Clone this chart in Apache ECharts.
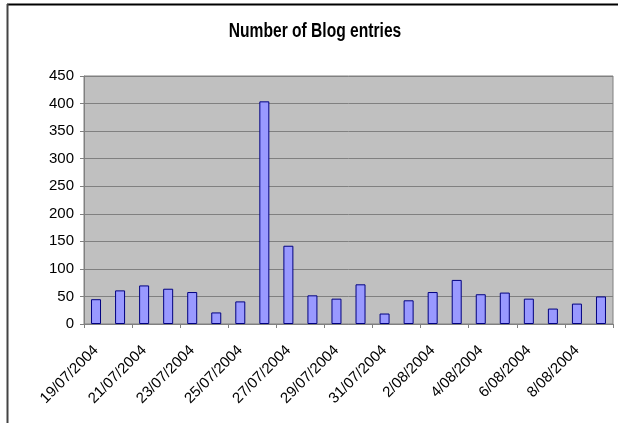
<!DOCTYPE html>
<html>
<head>
<meta charset="utf-8">
<script src="https://cdn.jsdelivr.net/npm/echarts@6/dist/echarts.min.js"></script>
<style>
html,body{margin:0;padding:0;background:#fff;}
#chart{width:618px;height:423px;}
</style>
</head>
<body>
<div id="chart"></div>
<script>
var categories = ['19/07/2004','20/07/2004','21/07/2004','22/07/2004','23/07/2004','24/07/2004','25/07/2004','26/07/2004','27/07/2004','28/07/2004','29/07/2004','30/07/2004','31/07/2004','1/08/2004','2/08/2004','3/08/2004','4/08/2004','5/08/2004','6/08/2004','7/08/2004','8/08/2004','9/08/2004'];
var entries = [45, 61, 70, 64, 58, 21, 41, 404, 142, 52, 46, 72, 19, 43, 58, 80, 54, 57, 46, 28, 37, 50];
var titleText = 'Number of Blog entries';

var chart = echarts.init(document.getElementById('chart'), null, {renderer: 'canvas'});
var font = 'Liberation Sans, Arial, sans-serif';
chart.setOption({
  animation: false,
  backgroundColor: '#ffffff',
  graphic: [
    {type: 'line', shape: {x1: 7, y1: 4.5, x2: 618, y2: 4.5}, style: {stroke: '#000', lineWidth: 2}, z: 100},
    {type: 'line', shape: {x1: 7.5, y1: 4, x2: 7.5, y2: 423}, style: {stroke: '#444', lineWidth: 2}, z: 100},
    {type: 'text', x: 315, y: 31, scaleX: 0.78, z: 100,
     style: {text: titleText, font: 'bold 20px "Liberation Sans", Arial, sans-serif', fill: '#000', textAlign: 'center', textVerticalAlign: 'middle'}}
  ],
  grid: {
    left: 84, right: 5, top: 76, bottom: 99,
    show: true, backgroundColor: '#c0c0c0', borderColor: '#808080', borderWidth: 1
  },
  xAxis: {
    type: 'category',
    data: categories,
    axisLine: {show: true, lineStyle: {color: '#808080', width: 1}},
    axisTick: {show: true, interval: 1, length: 4, lineStyle: {color: '#808080'}},
    axisLabel: {interval: 1, rotate: 45, margin: 24, fontFamily: font, fontSize: 15, color: '#000'},
    splitLine: {show: false}
  },
  yAxis: {
    type: 'value',
    min: 0, max: 450, interval: 50,
    axisLine: {show: true, lineStyle: {color: '#808080'}},
    axisTick: {show: true, length: 4, lineStyle: {color: '#808080'}},
    axisLabel: {margin: 10, fontFamily: font, fontSize: 15, color: '#000'},
    splitLine: {show: true, lineStyle: {color: '#808080', width: 1}}
  },
  series: [{
    type: 'bar',
    data: entries,
    barWidth: 10,
    itemStyle: {color: '#9999ff', borderColor: '#000080', borderWidth: 1}
  }]
});
</script>
</body>
</html>
